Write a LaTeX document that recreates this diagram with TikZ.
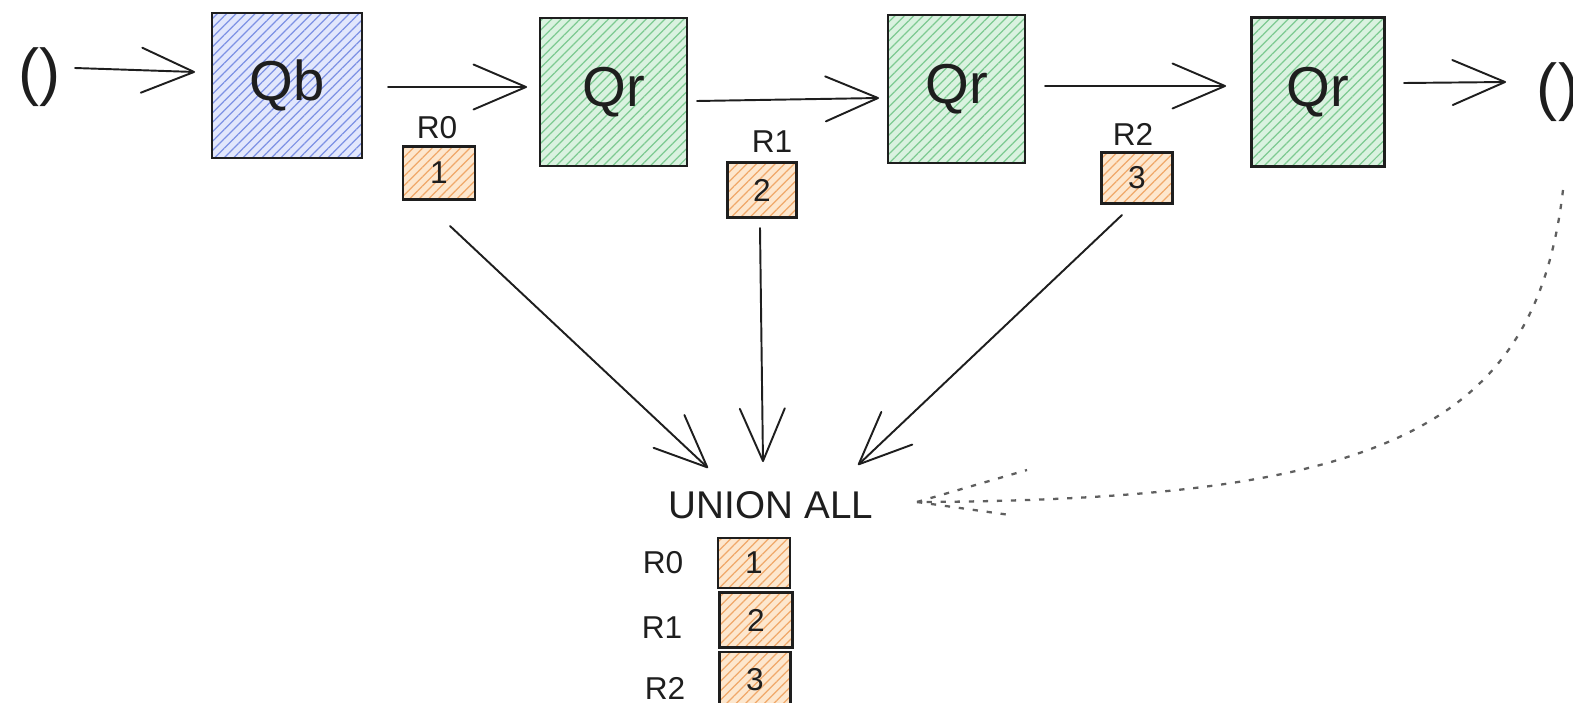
\documentclass[tikz,border=0pt]{standalone}
\usepackage{fontspec}
\setmainfont{Liberation Sans}
\usetikzlibrary{arrows.meta,patterns.meta,calc}
\definecolor{ink}{HTML}{1E1E1E}
\definecolor{blueFill}{RGB}{226,231,252}
\definecolor{blueHatch}{RGB}{125,145,228}
\definecolor{greenFill}{RGB}{218,242,224}
\definecolor{greenHatch}{RGB}{125,202,145}
\definecolor{orangeFill}{RGB}{253,231,206}
\definecolor{orangeHatch}{RGB}{240,168,105}
\definecolor{dashgray}{RGB}{95,95,95}
\tikzset{
  hatched/.style 2 args={preaction={fill=#1},
    pattern={Lines[angle=45,distance=3.8pt,line width=0.7pt]}, pattern color=#2},
  bigbox/.style={draw=ink, line width=1.4pt, inner sep=0pt, text=ink,
    font=\fontsize{32}{36}\selectfont},
  qbbox/.style={bigbox, hatched={blueFill}{blueHatch}},
  qrbox/.style={bigbox, hatched={greenFill}{greenHatch}},
  valbox/.style={draw=ink, line width=1.3pt, inner sep=0pt, text=ink,
    hatched={orangeFill}{orangeHatch}, font=\fontsize{18}{20}\selectfont},
  lbl/.style={inner sep=0pt, text=ink, font=\fontsize{18}{20}\selectfont},
  paren/.style={inner sep=0pt, text=ink, font=\fontsize{36}{40}\selectfont},
  arr/.style={draw=ink, line width=1.1pt, line cap=round,
    -{Straight Barb[length=1.05cm,width=0.9cm,round]}},
  dashline/.style={draw=dashgray, line width=1.3pt, dash pattern=on 3pt off 5pt}
}
\begin{document}
\begin{tikzpicture}[x=0.02cm,y=-0.02cm]
\useasboundingbox (0,0) rectangle (1573,703);

% pipeline across the top
\node[paren] (lin) at (40,77) {()};
\node[qbbox, minimum width=3cm, minimum height=2.9cm] (qb) at (287,85.5) {Qb};
\node[qrbox, minimum width=2.94cm, minimum height=2.96cm] (qra) at (613.5,92) {Qr};
\node[qrbox, minimum width=2.74cm, minimum height=2.96cm] (qrb) at (956.5,89) {Qr};
\node[qrbox, minimum width=2.66cm, minimum height=2.98cm] (qrc) at (1318,92) {Qr};
\node[paren] (rout) at (1558,92) {()};

% intermediate results
\node[lbl] (la) at (437,128) {R0};
\node[valbox, minimum width=1.44cm, minimum height=1.06cm] (va) at (439,173) {1};
\node[lbl] (lb) at (772,142) {R1};
\node[valbox, minimum width=1.38cm, minimum height=1.1cm] (vb) at (762,190) {2};
\node[lbl] (lc) at (1133,134) {R2};
\node[valbox, minimum width=1.42cm, minimum height=1.02cm] (vc) at (1137,178) {3};

% combined result
\node[inner sep=0pt, text=ink, font=\fontsize{22}{24}\selectfont] (union) at (771,505) {UNION ALL};
\node[lbl] (ula) at (663,563) {R0};
\node[valbox, minimum width=1.44cm, minimum height=1.0cm] (ua) at (754,563) {1};
\node[lbl] (ulb) at (662,628) {R1};
\node[valbox, minimum width=1.46cm, minimum height=1.1cm] (ub) at (756,620) {2};
\node[lbl] (ulc) at (665,688) {R2};
\node[valbox, minimum width=1.42cm, minimum height=1.12cm] (uc) at (755,680) {3};

% arrows between stages
\draw[arr] ($(lin)+(35,-9)$) -- ($(qb)+(-92,-13.5)$);
\draw[arr] ($(qb)+(101,1.5)$) -- ($(qra)+(-86.5,-5)$);
\draw[arr] ($(qra)+(83.5,9)$) -- ($(qrb)+(-77.5,9)$);
\draw[arr] ($(qrb)+(88.5,-3)$) -- ($(qrc)+(-92,-6)$);
\draw[arr] ($(qrc)+(86,-9)$) -- ($(rout)+(-52,-10)$);

% results collected into the union
\draw[arr] ($(va)+(11,53)$) -- ($(union)+(-63,-37)$);
\draw[arr] ($(vb)+(-2,38)$) -- ($(union)+(-8,-43)$);
\draw[arr] ($(vc)+(-15,37)$) -- ($(union)+(87,-40)$);

% recursion end feeding the union
\draw[dashline] ($(rout)+(5,98)$) .. controls (1535,430) and (1380,500) .. ($(union)+(146,-3)$);
\draw[dashline] ($(union)+(146,-3)$) -- ++(110,-32);
\draw[dashline] ($(union)+(146,-3)$) -- ++(93,13);
\end{tikzpicture}
\end{document}
